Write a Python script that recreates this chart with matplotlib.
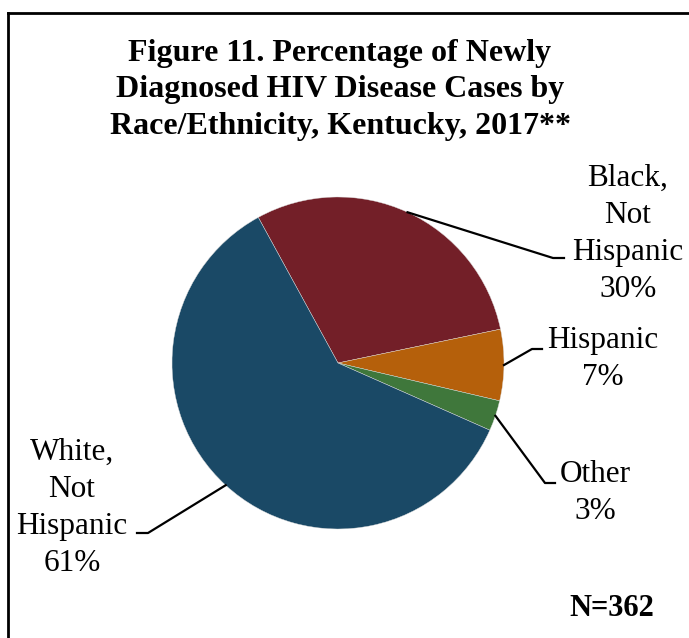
import matplotlib
matplotlib.use("Agg")
import matplotlib.pyplot as plt
from matplotlib.lines import Line2D
import numpy as np

# Data
categories = ["Black,\nNot\nHispanic", "Hispanic", "Other", "White,\nNot\nHispanic"]
percentages = [30, 7, 3, 61]
colors = ["#731F28", "#B5600B", "#3F773B", "#1A4966"]
title = "Figure 11. Percentage of Newly\nDiagnosed HIV Disease Cases by\nRace/Ethnicity, Kentucky, 2017**"
total_n = 362

W, H = 689, 638
fig = plt.figure(figsize=(W / 100, H / 100), dpi=100)
ax = fig.add_axes([0, 0, 1, 1])

def Y(y):
    # convert top-down pixel layout to the axes' upward y
    return H - y

center = (338, Y(363))
radius = 166
wedges, _ = ax.pie(
    percentages, colors=colors, startangle=118.7, counterclock=False,
    center=center, radius=radius,
    wedgeprops=dict(edgecolor="#DDDDDD", linewidth=0.3),
)
ax.set_xlim(0, W)
ax.set_ylim(0, H)
ax.set_aspect("auto")
ax.axis("off")

serif = ["Liberation Serif", "DejaVu Serif"]

# label layout: (elbow point, end of horizontal tick, text anchor)
layout = [
    ((553, 258), (564, 258), (628, 234)),
    ((532, 349), (542, 349), (603, 359)),
    ((545, 483), (555, 483), (595, 493)),
    ((148, 533), (137, 533), (72, 508)),
]

for w, cat, pct, (elbow, tick_end, txt) in zip(wedges, categories, percentages, layout):
    mid = np.deg2rad((w.theta1 + w.theta2) / 2)
    sx = center[0] + radius * np.cos(mid)
    sy = center[1] + radius * np.sin(mid)
    ax.add_line(Line2D([sx, elbow[0], tick_end[0]],
                       [sy, Y(elbow[1]), Y(tick_end[1])],
                       color="black", linewidth=1.6))
    ax.text(txt[0], Y(txt[1]), f"{cat}\n{pct}%", ha="center", va="center",
            multialignment="center", fontsize=22.5, family=serif,
            linespacing=1.36, color="black")

ax.text(340, Y(90), title, ha="center", va="center", multialignment="center",
        fontsize=23, fontweight="bold", family=serif, linespacing=1.35)
ax.text(612, Y(608), f"N={total_n}", ha="center", va="center",
        fontsize=22, fontweight="bold", family=serif)

# border along the top and left edges
fig.add_artist(Line2D([7.5 / W, 1.0], [Y(12.5) / H, Y(12.5) / H],
                      transform=fig.transFigure, color="black", linewidth=2))
fig.add_artist(Line2D([7.5 / W, 7.5 / W], [Y(12.5) / H, 0],
                      transform=fig.transFigure, color="black", linewidth=2))

fig.savefig("out.png", dpi=100, facecolor="white")
